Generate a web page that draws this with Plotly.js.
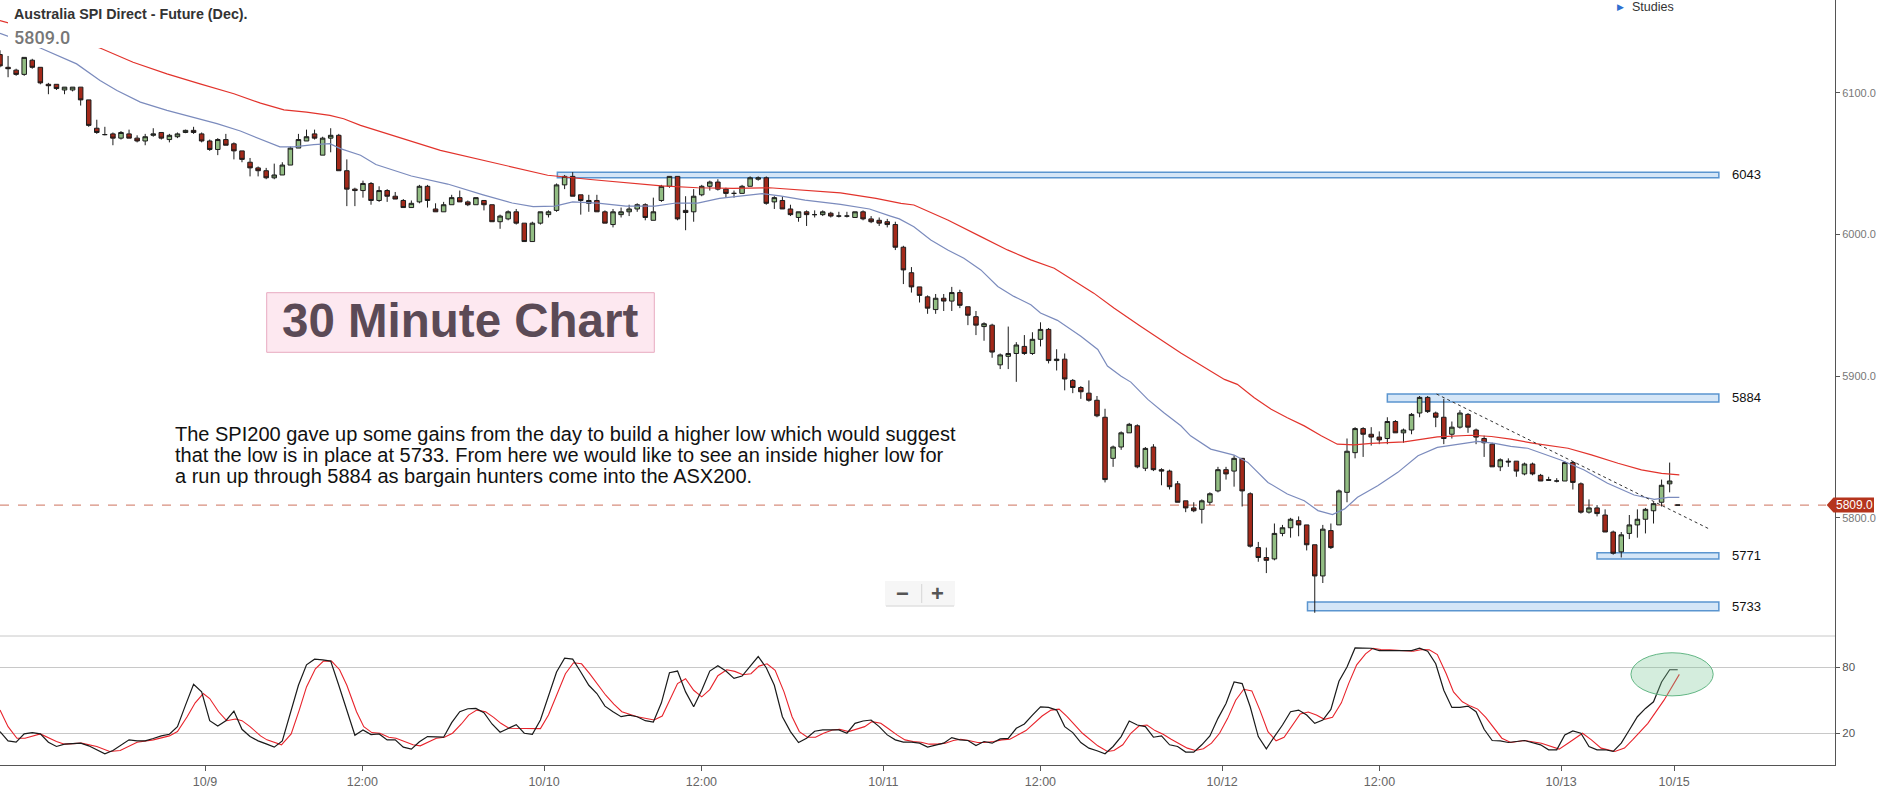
<!DOCTYPE html>
<html>
<head>
<meta charset="utf-8">
<script src="https://cdn.plot.ly/plotly-3.0.1.min.js"></script>
<style>html,body{margin:0;padding:0;background:#fff;}#chart{width:1885px;height:799px;}</style>
</head>
<body>
<div id="chart"></div>
<script>
// ---------------- DATA ----------------
// 30-minute candles (209 bars)
const open = [
6127,6118,6116,6113,6123,6118,6106,6106,6102,6102,
6104,6095,6075,6070.5,6071,6068,6071,6068,6066,6070,
6072,6067,6069,6072,6073.5,6071,6066,6060,6067,6064,
6059,6051,6047,6045,6040,6042,6049,6061,6066,6071,
6056,6068,6070,6045,6032,6031,6036,6024,6031,6027,
6024,6019,6023,6034,6018,6016,6021,6026,6023,6021,
6024,6021,6009,6011,6016,6008,5995,6008,6014,6017,
6035,6041,6028,6022,6024,6016,6007,6014,6016,6018,
6021,6010,6024,6034,6041,6017,6016,6028,6034,6037,
6032,6029,6029,6034,6039,6040,6023,6024,6018,6012,
6016,6014,6014,6015,6013,6013,6012,6016,6011,6010,
6009,6007,5991,5973,5963,5956,5947,5955,5953,5959,
5949,5942,5935,5936,5908,5914,5916,5921,5916,5926,
5933,5911,5912,5897,5892,5888,5883,5871,5842,5850,
5860,5865,5835,5850,5834,5833,5824,5812,5807,5806,
5811,5819,5834,5833,5842,5817,5779,5772,5771,5789,
5793,5798,5795,5781,5759,5791,5795,5818,5846,5863,
5859,5857,5856,5868,5860,5862,5874,5885,5874,5871,
5859,5864,5873,5862,5856,5852,5836,5840,5840,5831,
5838,5830,5827,5826,5826,5839,5824,5804,5807,5802,
5790,5776,5789,5795,5799,5805,5811,5824,5809];
const high = [
6130,6126,6117,6125,6124,6118,6107,6106,6104,6104,
6104,6095,6081,6076,6072,6073,6074,6070,6071,6075,
6072,6071,6072,6074,6076,6072,6067,6068,6071,6065,
6059,6054,6048,6047,6050,6051,6062,6071,6074,6074,
6069,6075,6071,6053,6033,6038,6037,6034,6032,6030,
6025,6024,6035,6035,6022,6023,6028,6031,6024,6026,
6024,6021,6014,6017,6018,6008,6009,6016,6017,6036,
6042,6044,6028,6028,6028,6017,6018,6019,6021,6022,
6022,6026,6035,6041,6041,6027,6032,6035,6038,6039,
6033,6031,6035,6041,6041,6041,6027,6027,6021,6016,
6017,6017,6017,6016,6016,6016,6016,6017,6013,6012,
6011,6009,5992,5977,5963,5957,5958,5958,5963,5961,
5949,5946,5938,5937,5916,5935,5924,5929,5931,5938,
5934,5919,5916,5898,5893,5897,5886,5877,5851,5861,
5867,5866,5850,5852,5835,5834,5826,5812,5811,5813,
5818,5836,5836,5844,5842,5818,5783,5779,5796,5795,
5800,5801,5795,5781,5795,5796,5820,5856,5864,5864,
5864,5861,5871,5869,5863,5874,5886,5886,5875,5884,
5868,5876,5874,5863,5858,5853,5842,5842,5840,5839,
5839,5831,5829,5828,5840,5840,5825,5813,5809,5806,
5791,5790,5802,5806,5807,5811,5827,5839,5809];
const low = [
6118,6111,6112,6112,6117,6106,6099,6102,6099,6101,
6091,6076,6071,6070,6063,6067,6068,6065,6063,6069,
6067,6065,6068,6071.5,6071,6065,6059,6056,6063,6053,
6051,6041,6041,6039,6039,6042,6049,6061,6066,6067,
6056,6058,6045,6020,6020,6026,6021,6023,6023,6025,
6019,6019,6022,6019,6016,6016,6021,6023,6020,6021,
6017,6009,6004,6010,6007,5995,5995,6007,6012,6016,
6032,6027,6014,6016,6016,6008,6005,6012,6013,6016,
6010,6010,6023,6033,6010,6003,6009,6027,6031,6031,
6026,6026,6029,6034,6038,6021,6018,6018,6013,6009,
6006,6012,6013,6012,6012,6012,6012,6010,6008,6006,
6005,5989,5965,5959,5952,5944,5944,5946,5946,5948,
5936,5929,5925,5913,5905,5905,5896,5915,5915,5921,
5909,5904,5890,5888,5884,5882,5871,5825,5836,5848,
5860,5835,5833,5833,5823,5820,5811,5804,5804,5796,
5809,5818,5827,5822,5808,5779,5769,5761,5770,5787,
5786,5787,5777,5733,5754,5778,5795,5811,5842,5843,
5851,5852,5852,5860,5853,5859,5871,5874,5864,5852,
5856,5863,5860,5852,5843,5836,5833,5836,5829,5830,
5830,5826,5826,5825,5826,5820,5803,5803,5801,5790,
5774,5772,5785,5786,5789,5796,5808,5818,5809];
const close = [
6119,6117,6113,6125,6118,6107,6105,6103,6104,6104,
6095,6077,6072,6070.5,6068,6072,6068,6066,6069,6071,
6068,6070,6071,6073.5,6072,6066,6060,6067,6063,6059,
6053,6047,6045,6040,6042,6049,6061,6067,6069,6068,
6068,6070,6045,6032,6031,6036,6024,6031,6027,6025,
6019,6022,6034,6024,6016,6021,6026,6023,6021,6026,
6021,6009,6013,6016,6008,5995,6008,6016,6016,6035,
6041,6027,6024,6024,6016,6008,6016,6016,6018,6021,
6012,6016,6034,6041,6011,6015.5,6027,6034,6037,6032,
6029,6029,6034,6040,6040,6022,6026,6018,6014,6016,
6014,6014,6016,6013,6013,6013,6016,6011,6009,6008,
6007,5991,5975,5963,5957,5948,5955,5953,5959,5950,
5943,5936,5937,5917,5915,5916,5922,5916,5926,5933,
5911,5912,5898,5892,5889,5883,5872,5827,5850,5860,
5866,5836,5849,5834,5833,5822,5811,5807,5805,5812,
5817,5834,5831,5842,5819,5780,5772,5770,5789,5793,
5799,5795,5781,5759,5792,5779,5819,5847,5863,5859,
5857,5855,5868,5860,5862,5873,5885,5875,5871,5856,
5864,5874,5864,5857,5853,5836,5841,5839.5,5833,5838,
5831,5826,5826.5,5826,5839,5825,5804,5807,5803,5790,
5775,5788,5795,5799,5806,5810,5823,5826,5809];

// Moving averages (bar position, price)
const maFastX = [0,5,9.5,12.4,14.5,17.4,20.7,24,26.9,29.8,32.3,34.7,36.4,38.9,40.9,42.2,44.7,46.6,51,55.5,59.9,63.5,66.1,68.8,71,74.1,77.6,81.2,83.8,86.5,89.2,91.8,94.5,96.7,99.8,104.2,107.8,110.4,111.5,113.3,115.4,117.5,119.5,121.6,123.7,125.7,127.8,129,131.1,134,136.1,137.3,139,140.2,142.3,144.3,146.4,147.6,150.1,153,154.7,157.2,159.6,161.7,163.4,165.2,166.7,168.3,170.8,173.3,175.8,178.2,180.7,183.2,185.3,187.3,189.4,193.5,196.4,199.3,202.6,205.1,206.8,208.2];
const maFast  = [6142,6131.6,6120.4,6108.7,6101.6,6093.4,6087.6,6082.4,6078.2,6073,6067.2,6061.8,6061.8,6063.4,6064.1,6060.6,6055.9,6049.4,6041.3,6035.6,6028,6022.2,6019.7,6020,6023,6022.2,6020,6020,6022.2,6022.2,6025.5,6027.3,6028.8,6027.3,6024.3,6021.2,6018,6013,6011,6005.5,5996.1,5989.1,5983.2,5975,5963.3,5956.3,5950.4,5944.6,5939.4,5928.2,5918.8,5907.1,5900,5895.8,5883.6,5874.2,5865,5857.9,5848.5,5844.3,5839.1,5825,5816.8,5812.1,5805.1,5802.3,5806.3,5814.5,5822.7,5832.1,5843.8,5849.7,5852,5853.9,5852.5,5850.5,5849.1,5840.8,5833.8,5824.4,5816.1,5813.1,5814.5,5814.5];
const maSlowX = [0,12.4,16.5,20.7,24.8,29,32.3,35.2,38,40.9,42.6,44.7,54.6,59.9,64.3,67.9,73.2,77.6,82,86.5,90.9,95.4,99.8,104.2,108.6,111.7,113.3,117.5,121.6,124.9,127.8,130.7,135.6,138.1,141.4,144.3,146.4,151.8,153.4,155.5,157.6,159.6,161.7,163.8,165.8,167.9,170,174.1,178.2,182.4,184.9,187.3,190.2,194.4,197.3,200.6,203.5,206,208.2];
const maSlow  = [6151,6131.6,6121.6,6113.4,6106.3,6099.3,6092.7,6088,6086.4,6084.1,6081.7,6077,6059.4,6052.4,6046.8,6041.8,6038.8,6036.3,6034.3,6033,6032.5,6033,6031.3,6029.3,6025.5,6022,6020.8,6010.2,5998.5,5989.1,5982.1,5976.2,5958.6,5948.1,5935.2,5924.6,5916.4,5897.7,5894.2,5884.8,5876.6,5870.7,5864.9,5857.9,5852,5851.5,5852.5,5853.6,5857.2,5858.3,5857.4,5855.5,5852.6,5849.1,5844.4,5838.5,5833.8,5831.4,5830.3];

// Stochastic %K (black) and %D (red)
const stochKX = [0,1,2,3,4,5,6,7,8,10,11,12,13,14,16,17,18,19,20,21,22,23,24,25,26,27,28,29,30,31,32,33,34,35,36,37,38,39,40,41,42,43,44,45,46,47,48,49,50,51,52,53,54,55,56,57,58,59,60,61,62,63,64,65,66,67,68,69,70,71,72,73,74,75,76,77,78,79,80,81,82,83,84,85,86,87,88,89,90,91,92,93,94,95,96,97,98,99,100,101,102,103,104,105,106,107,108,109,110,111,112,113,114,115,116,117,118,119,120,121,122,123,124,125,126,127,128,129,130,131,132,133,134,135,136,137,138,139,140,141,142,143,144,145,146,147,148,149,150,151,152,153,154,155,156,157,158,159,160,161,162,163,164,165,166,167,168,169,170,171,172,173,174,175,176,177,178,179,180,181,182,183,184,185,186,187,189,191,192,193,194,195,196,197,198,199,200,201,202,203,204,205,206,207,208];
const stochK  = [21.5,13.1,11.9,19.4,20.6,19.4,11.9,8.0,10.1,11.0,8.6,5.0,1.4,4.4,14.0,13.1,13.1,15.2,17.6,19.1,26.0,45.5,64.4,57.5,31.4,26.6,31.4,40.1,23.6,17.0,13.1,10.4,7.4,13.1,38.6,63.5,82.1,87.2,86.6,85.4,63.5,41.0,18.2,23.0,18.8,19.4,14.0,14.0,7.4,5.6,12.2,17.0,16.4,16.4,29.6,39.5,42.2,42.5,38.6,28.4,20.9,24.5,27.8,20.0,19.1,32.0,54.5,75.5,88.1,87.2,75.5,63.5,56.0,44.6,39.5,35.0,36.5,35.0,31.4,30.2,47.6,74.9,76.4,57.5,44.0,59.0,76.4,81.2,76.4,69.8,71.9,80.9,89.6,79.4,63.5,35.0,21.5,11.6,15.5,21.8,23.0,23.0,23.0,20.0,29.0,31.1,32.0,26.0,18.5,14.0,11.9,11.9,11.0,7.4,9.5,11.0,16.1,14.0,13.4,8.9,12.5,11.0,14.9,15.3,24.5,28.4,36.5,44.0,43.4,41.0,26.0,20.6,11.6,6.5,4.1,1.4,8.0,17.0,31.1,27.5,26.0,16.4,17.6,9.5,8.0,2.9,2.9,9.5,17.6,33.5,47.0,66.5,65.0,44.0,17.0,5.9,17.0,27.5,39.5,41.0,36.5,29.0,32.0,41.6,67.1,80.0,97.4,97.4,97.1,95.0,95.0,95.0,94.4,95.0,97.1,94.4,83.0,59.0,43.4,43.4,44.6,39.5,23.6,13.4,13.1,11.6,13.4,9.5,5.0,5.0,18.5,22.1,20.0,8.0,5.0,5.0,3.5,11.0,23.0,35.0,42.5,48.5,66.5,77.6,77.6];
const stochDX = [0,1,2.1,3.1,5,7,8,10.1,12,13.6,14.9,17,19,21,22,23.2,24.2,25.2,26,27.1,28.1,29.2,30,31,32.3,33.1,34.9,36.1,37.1,38,39.1,40.1,41.1,42.1,43,44.2,45.1,46.1,47.1,48.2,49.1,51.2,52.1,53.1,54.1,55.1,56.1,57.2,58.1,59.1,60.2,61.2,62.1,63.1,65,67,68,69.1,70.1,71.1,72.1,73.1,75.1,76.1,77.1,79,81.1,82.1,83.1,84,85,86,87,88,89,90.1,91.1,92.1,93.1,94.1,95.1,96.1,97.2,98.2,99.1,100.1,101.1,102.1,103.2,104.1,105.2,106.2,107.2,108.1,109.2,110.2,111.2,112.2,113.2,114.2,115.2,116.2,117.2,118.2,119.1,120.1,121.2,122.1,123.2,124.2,125.2,127.2,128.2,129.2,130.3,131.3,132.3,134.2,136.1,137.3,138.1,139.2,140.2,141.2,142.2,143.2,144.2,145.2,147.2,148.2,149.2,150.2,151.2,152.2,153.2,154.2,155.2,156.2,157.2,158.2,159.2,160.2,161.2,162.2,163.2,164.2,165.2,166.3,167.2,168.2,169.3,170.2,171.2,172.3,174.2,175.2,176.3,177.2,178.2,179.3,180.2,181.3,182.3,183.2,184.2,185.3,186.2,187.3,189,191.1,193.3,194.4,196.2,197.3,198.5,200.2,201.4,202.4,204.3,206.3,208.2];
const stochD  = [41.0,26.0,15.5,15.5,19.4,12.5,10.1,11.0,8.0,3.5,4.4,11.9,14.0,17.6,21.5,35.0,47.6,56.0,51.5,39.5,31.4,32.9,31.4,26.0,17.6,14.0,9.5,19.4,41.0,62.0,78.5,85.4,85.4,77.6,63.5,39.5,26.0,20.6,20.0,16.4,15.5,9.5,8.6,11.9,15.5,16.4,20.0,28.4,36.5,41.0,39.5,34.4,29.0,24.5,24.2,24.2,36.5,56.0,74.0,83.9,83.0,74.0,54.5,46.4,39.5,35.0,32.0,35.6,51.5,65.0,69.5,59.0,53.0,59.6,72.2,77.6,76.1,73.1,74.0,80.9,83.0,77.0,57.5,35.0,21.5,16.4,16.4,20.0,23.0,23.6,21.5,23.6,26.0,30.5,29.0,23.9,18.5,14.0,12.5,11.9,10.1,10.1,11.0,13.4,14.6,13.4,11.6,11.6,12.5,14.0,14.5,22.4,29.0,35.6,41.0,41.9,35.0,20.0,8.6,3.5,4.4,9.5,20.0,26.6,27.5,22.4,19.1,14.6,6.5,4.4,5.9,11.0,20.0,33.5,50.0,59.9,58.4,41.0,21.5,13.1,16.4,27.5,37.4,39.2,36.5,32.6,34.4,47.6,65.0,82.1,92.0,97.1,95.9,95.6,94.4,94.4,95.9,95.6,91.4,74.0,57.5,48.5,44.6,41.9,34.4,23.9,15.5,11.6,13.4,11.0,5.6,11.0,20.0,14.0,6.5,3.5,6.5,14.0,29.0,50.0,73.4];

// Axis tick labels
const xTickPos  = [25.42,44.92,67.45,86.96,109.52,128.99,151.52,171.02,193.55,207.56];
const xTickText = ['10/9','12:00','10/10','12:00','10/11','12:00','10/12','12:00','10/13','10/15'];
const yTickVals = [5800,5900,6000,6100];
const yTickText = ['5800.0','5900.0','6000.0','6100.0'];

// Support / resistance levels
const levelNames = ['6043','5884','5771','5733'];
const levelStart = [69.1,172.0,198.0,162.1];
const levelEnd   = [213.1,213.1,213.1,213.1];
const levelLow   = [6040.1,5881.8,5770.9,5734.4];
const levelHigh  = [6043.9,5887.4,5775.4,5740.6];
const lastPrice = 5809;

// Commentary text lines
const noteLines = [
  'The SPI200 gave up some gains from the day to build a higher low which would suggest',
  'that the low is in place at 5733. From here we would like to see an inside higher low for',
  'a run up through 5884 as bargain hunters come into the ASX200.'
];

// ---------------- LAYOUT HELPERS ----------------
const PW = 1835, PH = 765;
const px = v => v / PW;
const py = v => (PH - v) / PH;
const barIndex = open.map((_, i) => i);

const ARIAL = 'Liberation Sans, Arial, sans-serif';

const traces = [
  {type:'scatter', mode:'lines', x:maSlowX, y:maSlow, line:{color:'#e2332c', width:1.2}, hoverinfo:'skip', xaxis:'x', yaxis:'y'},
  {type:'scatter', mode:'lines', x:maFastX, y:maFast, line:{color:'#7b8bbd', width:1.2}, hoverinfo:'skip', xaxis:'x', yaxis:'y'},
  {type:'candlestick', x:barIndex, open:open, high:high, low:low, close:close,
   increasing:{line:{color:'#1c1c1c', width:1}, fillcolor:'#92bd83'},
   decreasing:{line:{color:'#1c1c1c', width:1}, fillcolor:'#a3291a'},
   whiskerwidth:0, hoverinfo:'skip', xaxis:'x', yaxis:'y'},
  {type:'scatter', mode:'lines', x:stochDX, y:stochD, line:{color:'#e8232b', width:1.1}, hoverinfo:'skip', xaxis:'x', yaxis:'y2'},
  {type:'scatter', mode:'lines', x:stochKX, y:stochK, line:{color:'#1a1a1a', width:1.2}, hoverinfo:'skip', xaxis:'x', yaxis:'y2'}
];

const shapes = [];
for (let i = 0; i < levelNames.length; i++) {
  shapes.push({type:'rect', xref:'x', yref:'y', x0:levelStart[i], x1:levelEnd[i], y0:levelLow[i], y1:levelHigh[i],
    fillcolor:'rgba(206,226,246,0.85)', line:{color:'#5b95cf', width:1.5}, layer:'below'});
}
shapes.push({type:'line', xref:'paper', yref:'y', x0:0, x1:px(1826), y0:lastPrice, y1:lastPrice,
  line:{color:'#d88e7e', width:1.2, dash:'dash'}, layer:'below'});
shapes.push({type:'line', xref:'x', yref:'y', x0:178.1, y0:5887.4, x1:212.0, y1:5791.9,
  line:{color:'#333', width:1, dash:'dot'}});
shapes.push({type:'line', xref:'paper', yref:'paper', x0:0, x1:1, y0:py(636), y1:py(636), line:{color:'#c8c8c8', width:1}});
shapes.push({type:'rect', xref:'paper', yref:'paper', x0:px(8), x1:px(262), y0:py(48), y1:1.02, fillcolor:'#ffffff', line:{width:0}});
shapes.push({type:'rect', xref:'paper', yref:'paper', x0:px(266.7), x1:px(654.3), y0:py(352.3), y1:py(292.7),
  fillcolor:'#fde8f0', line:{color:'#e8aac0', width:1}});
shapes.push({type:'rect', xref:'paper', yref:'paper', x0:px(885), x1:px(955), y0:py(606), y1:py(581),
  fillcolor:'#f6f6f6', line:{width:0}});
shapes.push({type:'line', xref:'paper', yref:'paper', x0:px(886), x1:px(954), y0:py(606), y1:py(606), line:{color:'#e0e0e0', width:1.5}});
shapes.push({type:'line', xref:'paper', yref:'paper', x0:px(921.7), x1:px(921.7), y0:py(603), y1:py(584), line:{color:'#d6d6d6', width:1}});
shapes.push({type:'path', xref:'paper', yref:'y',
  path:`M ${px(1826.7)} ${lastPrice} L ${px(1833.5)} ${lastPrice+5.3} L ${px(1874)} ${lastPrice+5.3} L ${px(1874)} ${lastPrice-5.3} L ${px(1833.5)} ${lastPrice-5.3} Z`,
  fillcolor:'#b5341d', line:{width:0}});
shapes.push({type:'circle', xref:'x', yref:'y2', x0:202.2, x1:212.4, y0:53.9, y1:93.0,
  fillcolor:'rgba(120,200,150,0.32)', line:{color:'#62b684', width:1}});

const ann = [];
function addText(text, x, y, opts) {
  ann.push(Object.assign({xref:'paper', yref:'paper', x:px(x), y:py(y), text:text, showarrow:false,
    xanchor:'left', yanchor:'middle', borderpad:0}, opts));
}
addText('Australia SPI Direct - Future (Dec).', 13, 13.5, {font:{family:ARIAL, size:14.3, color:'#333', weight:'bold'}});
addText('5809.0', 13, 37, {font:{family:'Roboto, Liberation Sans, Arial', size:18, color:'#777', weight:500}});
addText('\u25B6', 1616, 7, {font:{family:'DejaVu Sans, Arial', size:9, color:'#2f6fd0'}});
addText('Studies', 1631, 7, {font:{family:ARIAL, size:12.5, color:'#333'}});
addText('30 Minute Chart', 459.9, 320.3, {xanchor:'center', font:{family:ARIAL, size:47.5, color:'#5b4a56', weight:'bold'}});
const noteY = [434, 455, 476];
for (let i = 0; i < noteLines.length; i++) {
  addText(noteLines[i], 174, noteY[i], {font:{family:ARIAL, size:20, color:'#111'}});
}
addText('\u2212', 902.5, 593, {xanchor:'center', font:{family:ARIAL, size:22, color:'#555', weight:'bold'}});
addText('+', 937.7, 593, {xanchor:'center', font:{family:ARIAL, size:22, color:'#555', weight:'bold'}});
for (let i = 0; i < levelNames.length; i++) {
  ann.push({xref:'paper', yref:'y', x:px(1731), y:(levelLow[i]+levelHigh[i])/2, text:levelNames[i], showarrow:false,
    xanchor:'left', yanchor:'middle', borderpad:0, font:{family:ARIAL, size:13, color:'#111'}});
}
ann.push({xref:'paper', yref:'y', x:px(1854), y:lastPrice, text:lastPrice.toFixed(1), showarrow:false,
  xanchor:'center', yanchor:'middle', borderpad:0, font:{family:ARIAL, size:12, color:'#ffffff'}});

const layout = {
  width:1885, height:799,
  margin:{l:0, r:50, t:0, b:34, pad:0},
  paper_bgcolor:'#ffffff', plot_bgcolor:'#ffffff',
  showlegend:false, hovermode:false,
  boxgap:0.3, boxgroupgap:0.2,
  xaxis:{range:[0,227.5], anchor:'y2', tickvals:xTickPos, ticktext:xTickText, ticks:'outside', ticklen:5, tickcolor:'#555',
    showline:true, linecolor:'#555', linewidth:1, showgrid:false, zeroline:false,
    tickfont:{family:ARIAL, size:12.5, color:'#666'}, rangeslider:{visible:false}, fixedrange:true},
  yaxis:{domain:[py(636),1], range:[5716.6,6165.5], side:'right', anchor:'x', tickvals:yTickVals, ticktext:yTickText,
    ticks:'outside', ticklen:4, tickcolor:'#555', showline:true, linecolor:'#555', linewidth:1, showgrid:false, zeroline:false,
    tickfont:{family:ARIAL, size:11, color:'#777'}, fixedrange:true},
  yaxis2:{domain:[0,py(636)], range:[-8.8,108.2], side:'right', anchor:'x', tickvals:[20,80], ticktext:['20','80'],
    ticks:'outside', ticklen:4, tickcolor:'#555', showline:true, linecolor:'#555', linewidth:1, showgrid:true, gridcolor:'#c8c8c8', gridwidth:1,
    zeroline:false, tickfont:{family:ARIAL, size:11.5, color:'#555'}, fixedrange:true},
  shapes:shapes,
  annotations:ann
};

Plotly.newPlot('chart', traces, layout, {staticPlot:true, displayModeBar:false});
</script>
</body>
</html>
